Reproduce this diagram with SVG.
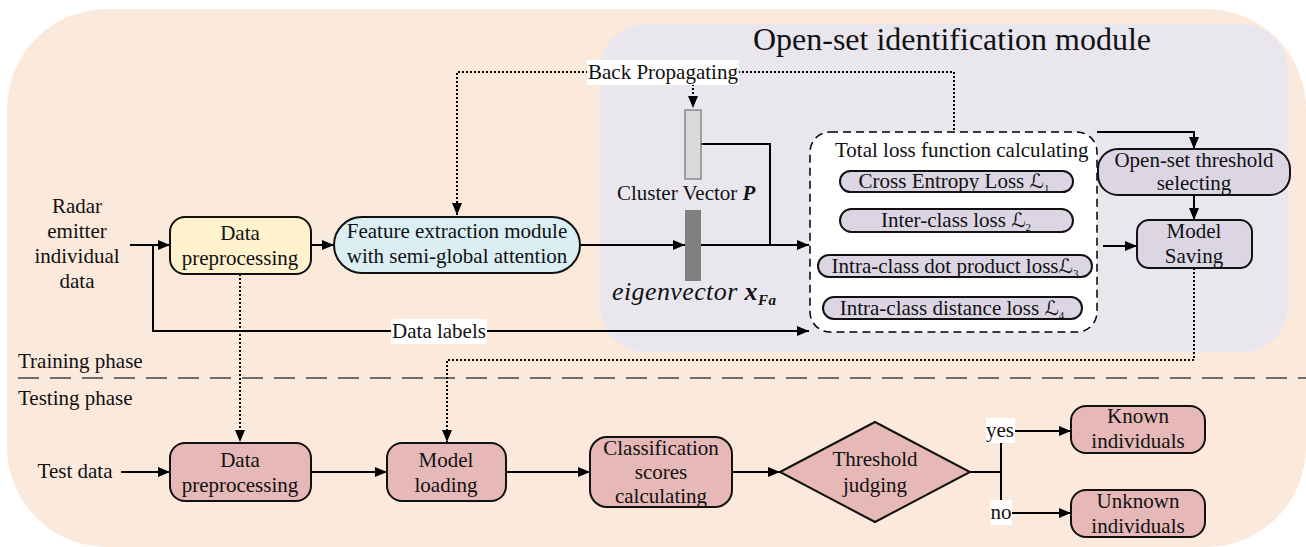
<svg xmlns="http://www.w3.org/2000/svg" width="1306" height="547" viewBox="0 0 1306 547">
<defs>
<marker id="ah" viewBox="0 0 12 10" refX="12" refY="5" markerWidth="12" markerHeight="10" markerUnits="userSpaceOnUse" orient="auto">
<path d="M0,0 L12,5 L0,10 z" fill="#000"/>
</marker>
</defs>
<style>
text{font-family:'Liberation Serif','Times New Roman',serif;font-size:21px;fill:#111}
.c{text-anchor:middle}
.box{stroke:#111;stroke-width:2}
.pill{fill:#DCD6E4;stroke:#111;stroke-width:2}
.lav{fill:#DCD6E4}
.red{fill:#E6B8B7}
.ln{fill:none;stroke:#000;stroke-width:2}
.dot{fill:none;stroke:#000;stroke-width:2;stroke-dasharray:2 2}
.sc{font-family:'DejaVu Serif','DejaVu Sans',serif;font-style:italic;font-size:20px}
.sub{font-size:11px}
.wb{fill:#fff}
</style>
<rect id="bg" x="7" y="9" width="1299" height="538" rx="100" ry="100" fill="#FBE9DC"/>
<g id="module">
<rect x="600" y="24" width="688" height="328" rx="46" ry="46" fill="#EAE6EE"/>
<text class="c" x="952" y="50" style="font-size:32px">Open-set identification module</text>
</g>
<line id="phase-sep" x1="18" y1="378" x2="1306" y2="378" stroke="#444" stroke-width="1.5" stroke-dasharray="21 11"/>
<text id="training" x="18" y="368">Training phase</text>
<text id="testing" x="18" y="405">Testing phase</text>

<g id="loss-box">
<rect x="810" y="132" width="287" height="200" rx="20" ry="20" fill="#fff" stroke="#000" stroke-width="1.5" stroke-dasharray="8 5"/>
<text x="835" y="157">Total loss function calculating</text>
<rect class="pill" x="840" y="171" width="233" height="21" rx="10.5"/>
<text class="c" x="954" y="188">Cross Entropy Loss <tspan class="sc">ℒ</tspan><tspan class="sub" dy="4">1</tspan></text>
<rect class="pill" x="840" y="209" width="233" height="23" rx="11.5"/>
<text class="c" x="956" y="227">Inter-class loss <tspan class="sc">ℒ</tspan><tspan class="sub" dy="4">2</tspan></text>
<rect class="pill" x="818" y="255" width="274" height="22" rx="11"/>
<text class="c" x="955" y="273">Intra-class dot product loss<tspan class="sc">ℒ</tspan><tspan class="sub" dy="4">3</tspan></text>
<rect class="pill" x="823" y="297" width="259" height="22" rx="11"/>
<text class="c" x="952" y="315">Intra-class distance loss <tspan class="sc">ℒ</tspan><tspan class="sub" dy="4">4</tspan></text>
</g>

<g id="connectors">
<path class="dot" d="M693,72 V108" marker-end="url(#ah)"/>
<path class="dot" d="M588,72 H457 V215" marker-end="url(#ah)"/>
<path class="dot" d="M738,72 H954 V131"/>
<path class="dot" d="M240,274 V442" marker-end="url(#ah)"/>
<path class="dot" d="M1194,268 V360 H447 V442" marker-end="url(#ah)"/>
<path class="ln" d="M130,245 H170" marker-end="url(#ah)"/>
<path class="ln" d="M153,245 V331 H391"/>
<path class="ln" d="M487,331 H809" marker-end="url(#ah)"/>
<path class="ln" d="M311,245 H334" marker-end="url(#ah)"/>
<path class="ln" d="M580,245 H685" marker-end="url(#ah)"/>
<path class="ln" d="M701,245 H809" marker-end="url(#ah)"/>
<path class="ln" d="M701,144 H770 V245"/>
<path class="ln" d="M1097,132 H1194 V149" marker-end="url(#ah)"/>
<path class="ln" d="M1194,195 V220" marker-end="url(#ah)"/>
<path class="ln" d="M1103,246 H1137" marker-end="url(#ah)"/>
<path class="ln" d="M121,472 H170" marker-end="url(#ah)"/>
<path class="ln" d="M311,472 H387" marker-end="url(#ah)"/>
<path class="ln" d="M506,472 H590" marker-end="url(#ah)"/>
<path class="ln" d="M732,472 H780" marker-end="url(#ah)"/>
<path class="ln" d="M970,472 H1001 M1001,443 V500"/>
<path class="ln" d="M1015,431 H1071" marker-end="url(#ah)"/>
<path class="ln" d="M1012,513 H1071" marker-end="url(#ah)"/>
</g>

<g id="bp-label"><rect class="wb" x="587" y="60" width="152" height="25"/><text x="663" y="79" class="c">Back Propagating</text></g>
<g id="dl-label"><rect class="wb" x="391" y="319" width="96" height="25"/><text x="439" y="338" class="c">Data labels</text></g>
<g id="yes-label"><rect class="wb" x="986" y="418" width="29" height="25"/><text x="1000" y="437" class="c">yes</text></g>
<g id="no-label"><rect class="wb" x="990" y="500" width="22" height="25"/><text x="1001" y="519" class="c">no</text></g>

<g id="radar-input"><text class="c" x="77" y="213">Radar</text><text class="c" x="77" y="238">emitter</text><text class="c" x="77" y="263">individual</text><text class="c" x="77" y="288">data</text></g>
<g id="data-prep-train"><rect class="box" x="170" y="217" width="141" height="57" rx="15" fill="#FFF2CC"/><text class="c" x="240" y="240">Data</text><text class="c" x="240" y="265">preprocessing</text></g>
<g id="feature-extraction"><rect class="box" x="334" y="217" width="246" height="56" rx="28" fill="#DAEEF3"/><text class="c" x="457" y="238">Feature extraction module</text><text class="c" x="457" y="263">with semi-global attention</text></g>
<g id="cluster-vector"><rect x="685" y="110" width="16" height="69" fill="#D9D9D9" stroke="#888" stroke-width="1.5"/><text x="617" y="200">Cluster Vector <tspan font-weight="bold" font-style="italic">P</tspan></text></g>
<g id="eigenvector"><rect x="685" y="210" width="16" height="71" fill="#808080"/><text x="612" y="300" style="font-size:26px;font-style:italic;letter-spacing:0.4px">eigenvector <tspan font-weight="bold">x</tspan><tspan font-weight="bold" style="font-size:15px" dy="5">Fa</tspan></text></g>
<g id="threshold-select"><rect class="box lav" x="1098" y="149" width="192" height="46" rx="20"/><text class="c" x="1194" y="167">Open-set threshold</text><text class="c" x="1194" y="190">selecting</text></g>
<g id="model-saving"><rect class="box lav" x="1137" y="220" width="115" height="48" rx="12"/><text class="c" x="1194" y="238">Model</text><text class="c" x="1194" y="263">Saving</text></g>

<g id="test-data"><text class="c" x="75" y="478">Test data</text></g>
<g id="data-prep-test"><rect class="box red" x="170" y="443" width="141" height="58" rx="15"/><text class="c" x="240" y="467">Data</text><text class="c" x="240" y="492">preprocessing</text></g>
<g id="model-loading"><rect class="box red" x="387" y="443" width="119" height="58" rx="15"/><text class="c" x="446" y="467">Model</text><text class="c" x="446" y="492">loading</text></g>
<g id="classification"><rect class="box red" x="590" y="437" width="142" height="70" rx="17"/><text class="c" x="661" y="455">Classification</text><text class="c" x="661" y="479">scores</text><text class="c" x="661" y="503">calculating</text></g>
<g id="threshold-judging"><polygon class="box red" points="780,472 875,422 970,472 875,522"/><text class="c" x="875" y="466">Threshold</text><text class="c" x="875" y="492">judging</text></g>
<g id="known"><rect class="box red" x="1071" y="406" width="134" height="47" rx="15"/><text class="c" x="1138" y="423">Known</text><text class="c" x="1138" y="448">individuals</text></g>
<g id="unknown"><rect class="box red" x="1071" y="490" width="134" height="47" rx="15"/><text class="c" x="1138" y="508">Unknown</text><text class="c" x="1138" y="533">individuals</text></g>
</svg>
